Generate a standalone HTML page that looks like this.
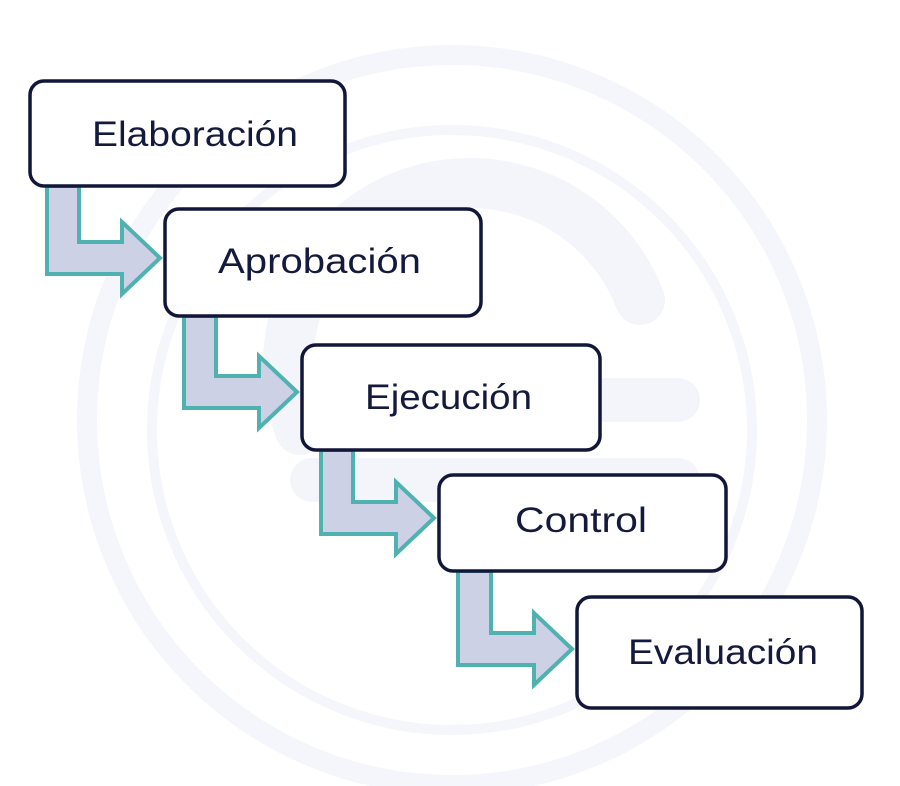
<!DOCTYPE html>
<html><head><style>html,body{margin:0;padding:0;background:#fff;width:900px;height:786px;overflow:hidden}</style></head>
<body>
<svg width="900" height="786" viewBox="0 0 900 786" xmlns="http://www.w3.org/2000/svg">
<rect width="900" height="786" fill="#fff"/>
<g fill="none" stroke="#f5f6fb">
<circle cx="452" cy="420" r="365" stroke-width="20"/>
<circle cx="452" cy="430" r="300" stroke-width="10"/>
</g>
<path d="M300 430 A170 170 0 0 1 640 300" stroke="#f4f5fa" stroke-width="50" fill="none" stroke-linecap="round"/>
<rect x="290" y="378" width="410" height="44" rx="22" fill="#f4f5fa"/>
<rect x="290" y="458" width="410" height="44" rx="22" fill="#f4f5fa"/>
<g fill="#cdd1e6" stroke="#4fb1b0" stroke-width="4" stroke-linejoin="miter">
<path d="M47 186 H79 V242 H122 V222 L160 258 L122 294 V274 H47 Z"/>
<path d="M184 316 H216 V376 H259 V356 L297 392 L259 428 V408 H184 Z"/>
<path d="M321 450 H353 V502 H396 V482 L434 518 L396 554 V534 H321 Z"/>
<path d="M458 571 H491 V633 H534 V613 L572 649 L534 685 V665 H458 Z"/>
</g>
<g fill="#fff" stroke="#12173a" stroke-width="3.5">
<rect x="30" y="81" width="315" height="105" rx="14"/>
<rect x="165" y="209" width="316" height="107" rx="14"/>
<rect x="302" y="345" width="298" height="105" rx="14"/>
<rect x="439" y="475" width="287" height="96" rx="14"/>
<rect x="577" y="597" width="285" height="111" rx="14"/>
</g>
<g font-family="Liberation Sans, sans-serif" font-size="35" fill="#141a3c">
<text x="92" y="146" textLength="206" lengthAdjust="spacingAndGlyphs">Elaboración</text>
<text x="218" y="273" textLength="203" lengthAdjust="spacingAndGlyphs">Aprobación</text>
<text x="365" y="409" textLength="167" lengthAdjust="spacingAndGlyphs">Ejecución</text>
<text x="515" y="532" textLength="132" lengthAdjust="spacingAndGlyphs">Control</text>
<text x="628" y="664" textLength="190" lengthAdjust="spacingAndGlyphs">Evaluación</text>
</g>
</svg>
</body></html>
